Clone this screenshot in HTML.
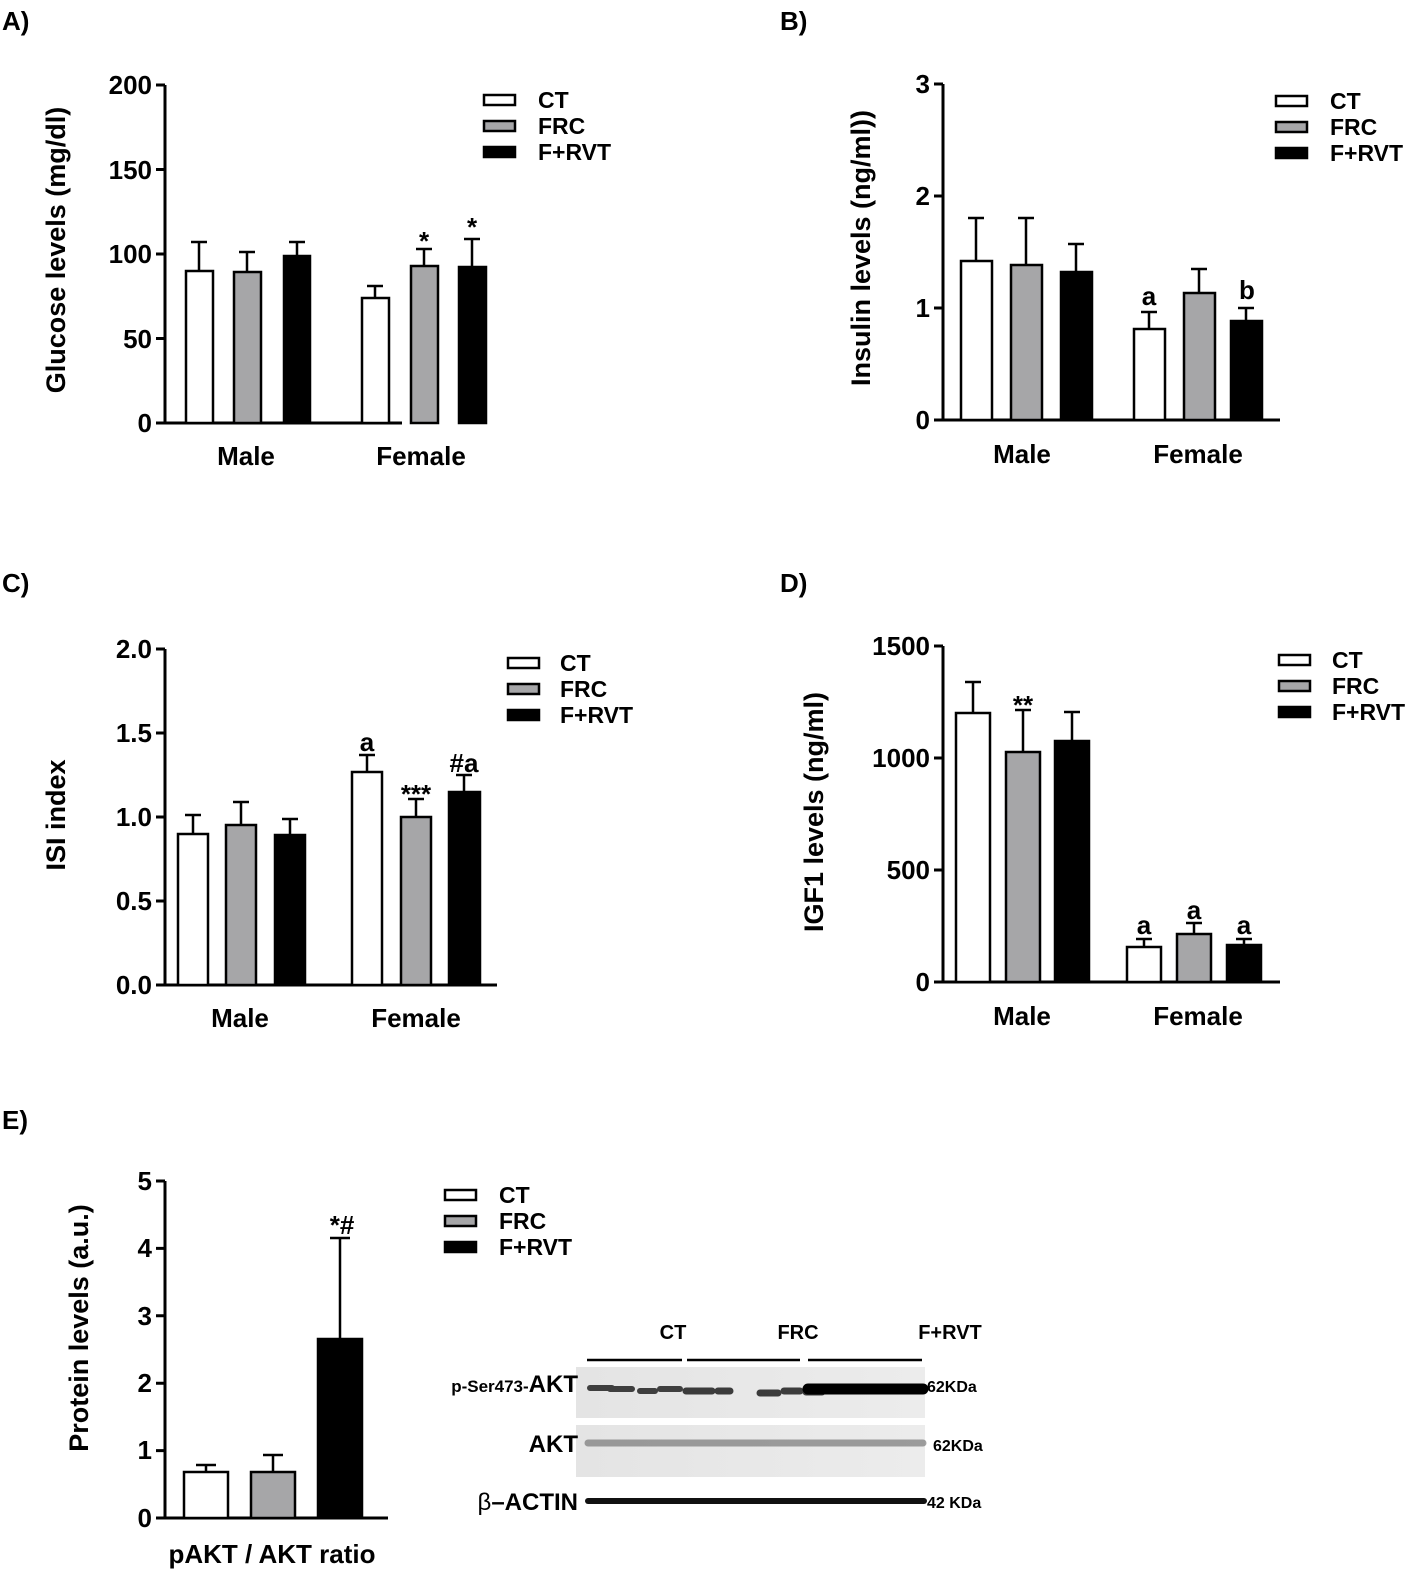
<!DOCTYPE html>
<html><head><meta charset="utf-8"><style>
body{margin:0;background:#fff}
svg{display:block;font-family:"Liberation Sans",Arial,sans-serif;font-weight:bold}
</style></head><body>
<svg width="1417" height="1580" viewBox="0 0 1417 1580" xmlns="http://www.w3.org/2000/svg">
<defs>
<linearGradient id="blot" x1="0" x2="1"><stop offset="0" stop-color="#e4e4e4"/><stop offset="1" stop-color="#ececec"/></linearGradient>
</defs>
<g font-size="26" fill="#000">
<text x="2" y="30">A)</text>
<text x="780" y="30">B)</text>
<text x="2" y="592">C)</text>
<text x="780" y="592">D)</text>
<text x="2" y="1129">E)</text>
</g>

<!-- Panel A -->
<g stroke="#000" stroke-width="3" fill="none">
<path d="M165 85V423M156 85H165M156 169.5H165M156 254H165M156 338.5H165M156 423H402"/>
</g>
<g font-size="26" text-anchor="end">
<text x="152" y="94">200</text><text x="152" y="179">150</text><text x="152" y="263">100</text><text x="152" y="348">50</text><text x="152" y="432">0</text>
</g>
<text transform="translate(65 250) rotate(-90)" font-size="27" text-anchor="middle">Glucose levels (mg/dl)</text>
<g stroke="#000" stroke-width="2.5">
<path d="M199 271V242M191 242H207M247 272V252M239 252H255M297 256V242M289 242H305M375 298V286M367 286H383M424 266V249M416 249H432M472 267V239M464 239H480"/>
<rect x="186" y="271" width="27" height="152" fill="#fff"/>
<rect x="234" y="272" width="27" height="151" fill="#a6a6a8"/>
<rect x="284" y="256" width="26" height="167" fill="#000"/>
<rect x="362" y="298" width="27" height="125" fill="#fff"/>
<rect x="411" y="266" width="27" height="157" fill="#a6a6a8"/>
<rect x="459" y="267" width="27" height="156" fill="#000"/>
</g>
<g font-size="26" text-anchor="middle"><text x="424" y="250">*</text><text x="472" y="236">*</text>
<text x="246" y="465">Male</text><text x="421" y="465">Female</text></g>
<g stroke="#000" stroke-width="2.5"><rect x="484" y="95" width="31" height="10" fill="#fff"/><rect x="484" y="121" width="31" height="10" fill="#a6a6a8"/><rect x="484" y="147" width="31" height="10" fill="#000"/></g>
<g font-size="23"><text x="538" y="108">CT</text><text x="538" y="134">FRC</text><text x="538" y="160">F+RVT</text></g>

<!-- Panel B -->
<g stroke="#000" stroke-width="3" fill="none">
<path d="M943 84V420M934 84H943M934 196H943M934 308H943M934 420H1280"/>
</g>
<g font-size="26" text-anchor="end">
<text x="930" y="93">3</text><text x="930" y="205">2</text><text x="930" y="317">1</text><text x="930" y="429">0</text>
</g>
<text transform="translate(870 248) rotate(-90)" font-size="27" text-anchor="middle">Insulin levels (ng/ml))</text>
<g stroke="#000" stroke-width="2.5">
<path d="M976 261V218M968 218H984M1026 265V218M1018 218H1034M1076 272V244M1068 244H1084M1149 329V312M1141 312H1157M1199 293V269M1191 269H1207M1246 321V308M1238 308H1254"/>
<rect x="961" y="261" width="31" height="159" fill="#fff"/>
<rect x="1011" y="265" width="31" height="155" fill="#a6a6a8"/>
<rect x="1061" y="272" width="31" height="148" fill="#000"/>
<rect x="1134" y="329" width="31" height="91" fill="#fff"/>
<rect x="1184" y="293" width="31" height="127" fill="#a6a6a8"/>
<rect x="1231" y="321" width="31" height="99" fill="#000"/>
</g>
<g font-size="26" text-anchor="middle"><text x="1149" y="305">a</text><text x="1247" y="299">b</text>
<text x="1022" y="463">Male</text><text x="1198" y="463">Female</text></g>
<g stroke="#000" stroke-width="2.5"><rect x="1276" y="96" width="31" height="10" fill="#fff"/><rect x="1276" y="122" width="31" height="10" fill="#a6a6a8"/><rect x="1276" y="148" width="31" height="10" fill="#000"/></g>
<g font-size="23"><text x="1330" y="109">CT</text><text x="1330" y="135">FRC</text><text x="1330" y="161">F+RVT</text></g>

<!-- Panel C -->
<g stroke="#000" stroke-width="3" fill="none">
<path d="M165 649V985M156 649H165M156 733H165M156 817H165M156 901H165M156 985H497"/>
</g>
<g font-size="26" text-anchor="end">
<text x="152" y="658">2.0</text><text x="152" y="742">1.5</text><text x="152" y="826">1.0</text><text x="152" y="910">0.5</text><text x="152" y="994">0.0</text>
</g>
<text transform="translate(65 815) rotate(-90)" font-size="27" text-anchor="middle">ISI index</text>
<g stroke="#000" stroke-width="2.5">
<path d="M193 834V815M185 815H201M241 825V802M233 802H249M290 835V819M282 819H298M367 772V755M359 755H375M416 817V799M408 799H424M464 792V775M456 775H472"/>
<rect x="178" y="834" width="30" height="151" fill="#fff"/>
<rect x="226" y="825" width="30" height="160" fill="#a6a6a8"/>
<rect x="275" y="835" width="30" height="150" fill="#000"/>
<rect x="352" y="772" width="30" height="213" fill="#fff"/>
<rect x="401" y="817" width="30" height="168" fill="#a6a6a8"/>
<rect x="449" y="792" width="31" height="193" fill="#000"/>
</g>
<g font-size="26" text-anchor="middle"><text x="367" y="751">a</text><text x="416" y="803">***</text><text x="464" y="772">#a</text>
<text x="240" y="1027">Male</text><text x="416" y="1027">Female</text></g>
<g stroke="#000" stroke-width="2.5"><rect x="508" y="658" width="31" height="10" fill="#fff"/><rect x="508" y="684" width="31" height="10" fill="#a6a6a8"/><rect x="508" y="710" width="31" height="10" fill="#000"/></g>
<g font-size="23"><text x="560" y="671">CT</text><text x="560" y="697">FRC</text><text x="560" y="723">F+RVT</text></g>

<!-- Panel D -->
<g stroke="#000" stroke-width="3" fill="none">
<path d="M943 646V982M934 646H943M934 758H943M934 870H943M934 982H1280"/>
</g>
<g font-size="26" text-anchor="end">
<text x="930" y="655">1500</text><text x="930" y="767">1000</text><text x="930" y="879">500</text><text x="930" y="991">0</text>
</g>
<text transform="translate(823 812) rotate(-90)" font-size="27" text-anchor="middle">IGF1 levels (ng/ml)</text>
<g stroke="#000" stroke-width="2.5">
<path d="M973 713V682M965 682H981M1023 752V710M1015 710H1031M1072 741V712M1064 712H1080M1144 947V939M1136 939H1152M1194 934V923M1186 923H1202M1244 945V939M1236 939H1252"/>
<rect x="956" y="713" width="34" height="269" fill="#fff"/>
<rect x="1006" y="752" width="34" height="230" fill="#a6a6a8"/>
<rect x="1055" y="741" width="34" height="241" fill="#000"/>
<rect x="1127" y="947" width="34" height="35" fill="#fff"/>
<rect x="1177" y="934" width="34" height="48" fill="#a6a6a8"/>
<rect x="1227" y="945" width="34" height="37" fill="#000"/>
</g>
<g font-size="26" text-anchor="middle"><text x="1023" y="714">**</text><text x="1144" y="934">a</text><text x="1194" y="919">a</text><text x="1244" y="934">a</text>
<text x="1022" y="1025">Male</text><text x="1198" y="1025">Female</text></g>
<g stroke="#000" stroke-width="2.5"><rect x="1279" y="655" width="31" height="10" fill="#fff"/><rect x="1279" y="681" width="31" height="10" fill="#a6a6a8"/><rect x="1279" y="707" width="31" height="10" fill="#000"/></g>
<g font-size="23"><text x="1332" y="668">CT</text><text x="1332" y="694">FRC</text><text x="1332" y="720">F+RVT</text></g>

<!-- Panel E -->
<g stroke="#000" stroke-width="3" fill="none">
<path d="M165 1181V1518M156 1181H165M156 1248.4H165M156 1315.8H165M156 1383.2H165M156 1450.6H165M156 1518H388"/>
</g>
<g font-size="26" text-anchor="end">
<text x="152" y="1190">5</text><text x="152" y="1257">4</text><text x="152" y="1325">3</text><text x="152" y="1392">2</text><text x="152" y="1459">1</text><text x="152" y="1527">0</text>
</g>
<text transform="translate(88 1328) rotate(-90)" font-size="27" text-anchor="middle">Protein levels (a.u.)</text>
<g stroke="#000" stroke-width="2.5">
<path d="M206 1472V1465M196 1465H216M273 1472V1455M263 1455H283M340 1339V1238M330 1238H350"/>
<rect x="184" y="1472" width="44" height="46" fill="#fff"/>
<rect x="251" y="1472" width="44" height="46" fill="#a6a6a8"/>
<rect x="318" y="1339" width="44" height="179" fill="#000"/>
</g>
<g font-size="26" text-anchor="middle"><text x="342" y="1234">*#</text>
<text x="272" y="1563">pAKT / AKT ratio</text></g>
<g stroke="#000" stroke-width="2.5"><rect x="445" y="1190" width="31" height="10" fill="#fff"/><rect x="445" y="1216" width="31" height="10" fill="#a6a6a8"/><rect x="445" y="1242" width="31" height="10" fill="#000"/></g>
<g font-size="23"><text x="499" y="1203">CT</text><text x="499" y="1229">FRC</text><text x="499" y="1255">F+RVT</text></g>

<!-- Blot -->
<g font-size="20" text-anchor="middle"><text x="673" y="1339">CT</text><text x="798" y="1339">FRC</text><text x="950" y="1339">F+RVT</text></g>
<g stroke="#000" stroke-width="2.5"><path d="M587 1360H682M687 1360H800M808 1360H922"/></g>
<rect x="576" y="1367" width="349" height="51" fill="url(#blot)"/>
<rect x="576" y="1425" width="349" height="52" fill="url(#blot)"/>
<g stroke-linecap="round">
<path d="M590 1388H612M610 1389H632M640 1391H655M660 1389H680" stroke="#222" stroke-width="6" opacity="0.85"/>
<path d="M686 1391H712M718 1391H730M760 1393H778M784 1391H800M806 1392H822" stroke="#111" stroke-width="7" opacity="0.8"/>
<path d="M808 1389H923" stroke="#000" stroke-width="11"/>
<path d="M588 1443H923" stroke="#666" stroke-width="7" opacity="0.6"/>
<path d="M588 1501H924" stroke="#111" stroke-width="6"/>
</g>
<g font-size="24" text-anchor="end">
<text x="578" y="1392"><tspan font-size="17">p-Ser473-</tspan>AKT</text>
<text x="578" y="1452">AKT</text>
<text x="578" y="1510"><tspan font-weight="normal">β</tspan>–ACTIN</text>
</g>
<g font-size="16"><text x="927" y="1392">62KDa</text><text x="933" y="1451">62KDa</text><text x="927" y="1508">42 KDa</text></g>
</svg>
</body></html>
